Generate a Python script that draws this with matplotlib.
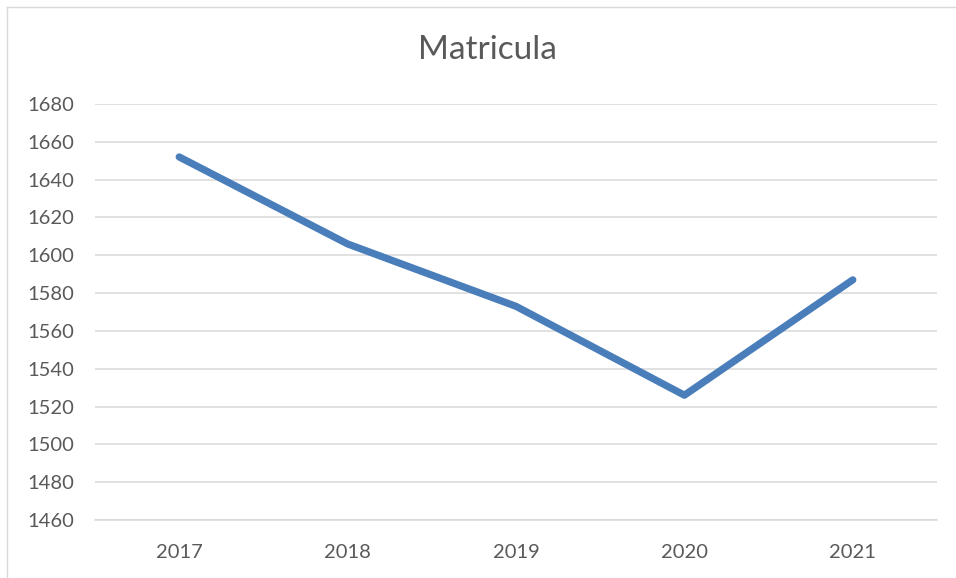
import matplotlib
matplotlib.use("Agg")
import matplotlib.pyplot as plt
from matplotlib.lines import Line2D

years = ["2017", "2018", "2019", "2020", "2021"]
matricula = [1652, 1606, 1573, 1526, 1587]
yticks = [1460, 1480, 1500, 1520, 1540, 1560, 1580, 1600, 1620, 1640, 1660, 1680]

plt.rcParams['font.family'] = ['Lato', 'DejaVu Sans']
W, H = 956, 578
fig = plt.figure(figsize=(W/100, H/100), dpi=100)
ax = fig.add_axes([95/W, 1 - 520/H, (937-95)/W, (520-104)/H])

x = list(range(len(years)))
ax.plot(x, matricula, color='#4A7EBB', lw=5.2, solid_capstyle='round', solid_joinstyle='round', zorder=3)

ax.set_xlim(-0.5, len(years) - 0.5)
ax.set_ylim(1460, 1680)
ax.set_yticks(yticks)
ax.set_xticks(x)
ax.set_xticklabels(years)
ax.yaxis.grid(True, color='#D9D9D9', lw=1.1)
ax.set_axisbelow(True)
for s in ['top', 'right', 'left']:
    ax.spines[s].set_visible(False)
ax.spines['bottom'].set_color('#D9D9D9')
ax.spines['bottom'].set_linewidth(1.1)
ax.tick_params(axis='both', length=0, labelsize=14.5, labelcolor='#595959')
ax.tick_params(axis='y', pad=15)
ax.tick_params(axis='x', pad=17)

fig.text(487/W, 1 - 50/H, "Matricula", ha='center', va='center', fontsize=24,
         color='#595959', fontweight='normal')

# chart area border
fig.add_artist(Line2D([7/W, 7/W], [0, 1 - 7/H], color='#D9D9D9', lw=1, transform=fig.transFigure))
fig.add_artist(Line2D([7/W, 1], [1 - 7/H, 1 - 7/H], color='#D9D9D9', lw=1, transform=fig.transFigure))

fig.savefig("out.png", dpi=100)
